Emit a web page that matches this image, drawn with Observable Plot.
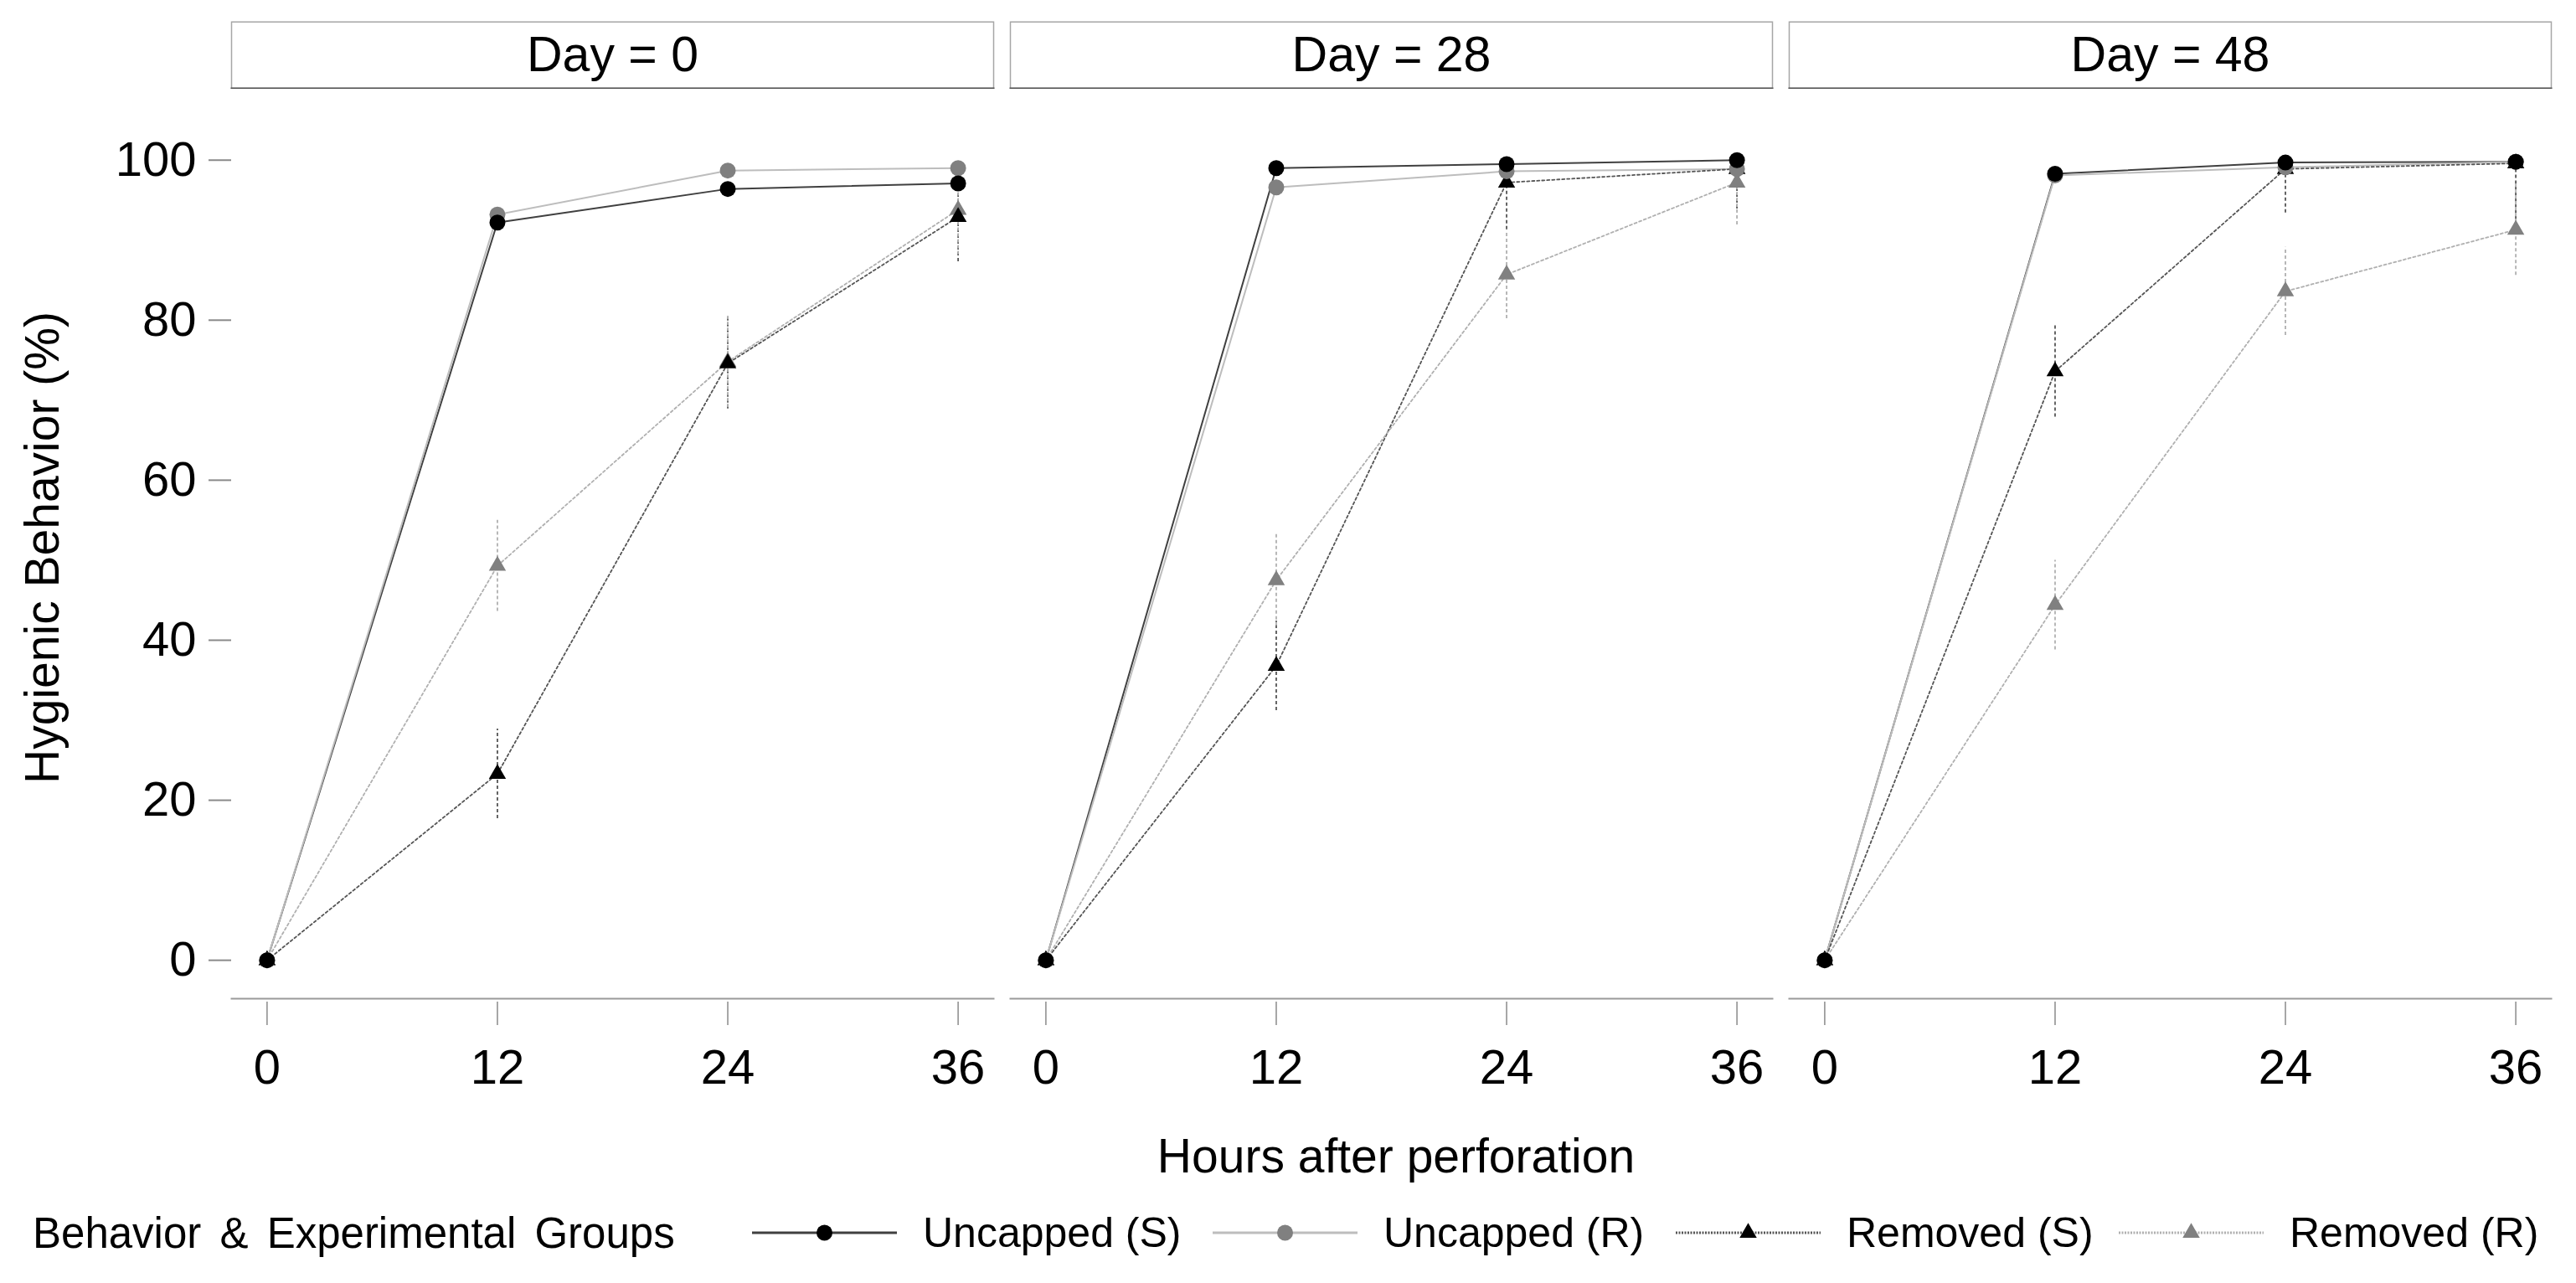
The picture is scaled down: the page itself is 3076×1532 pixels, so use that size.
<!DOCTYPE html>
<html>
<head>
<meta charset="utf-8">
<script src="https://cdn.jsdelivr.net/npm/d3@7"></script>
<script src="https://cdn.jsdelivr.net/npm/@observablehq/plot@0.6"></script>
<style>
  html, body { margin: 0; padding: 0; background: #fff; }
  body { font-family: "Liberation Sans", Arial, sans-serif; }
  #wrap { position: relative; width: 3076px; height: 1532px; background: #fff; overflow: hidden; }
  #header { position: absolute; left: 0; top: 0; }
  #main { position: absolute; left: 0; top: 106px; }
  .t { position: absolute; white-space: nowrap; color: #000; line-height: 1; }
  .lg { position: absolute; }
</style>
</head>
<body>
<div id="wrap">
  <div id="header"></div>
  <div id="main"></div>
  <div class="t" id="ytitle" style="left:50px; top:654px; font-size:57px; transform: translate(-50%,-50%) rotate(-90deg);">Hygienic Behavior (%)</div>
  <div class="t" id="xtitle" style="left:1667px; top:1380px; font-size:57px; transform: translate(-50%,-50%);">Hours after perforation</div>
  <div id="legend"></div>
</div>
<script>
// ---------- data ----------
const days = [0, 28, 48];
const hours = [0, 12, 24, 36];
const yTicks = [0, 20, 40, 60, 80, 100];
const groups = ["Uncapped (S)", "Uncapped (R)", "Removed (S)", "Removed (R)"];
const legendTitle = "Behavior & Experimental Groups";

// rows: Day 0, Day 28, Day 48 ; columns: hours 0, 12, 24, 36
const uncappedS = [[0, 92.2, 96.4, 97.1], [0, 99.0, 99.5, 100.0], [0, 98.3, 99.7, 99.8]];
const uncappedR = [[0, 93.2, 98.7, 99.0], [0, 96.6, 98.6, 98.9], [0, 98.1, 99.1, 99.8]];
const removedS  = [[0, 23.3, 74.6, 92.9], [0, 36.8, 97.2, 98.9], [0, 73.6, 98.9, 99.6]];
const removedR  = [[0, 49.3, 74.8, 93.8], [0, 47.5, 85.7, 97.2], [0, 44.4, 83.6, 91.3]];
// error half-widths (Removed groups only)
const removedSErr = [[0, 5.6, 5.7, 5.6], [0, 5.6, 5.9, 5.0], [0, 5.7, 5.5, 7.0]];
const removedRErr = [[0, 5.7, 5.7, 5.6], [0, 5.7, 5.5, 5.3], [0, 5.6, 5.5, 5.7]];

const seriesValues = [uncappedS, uncappedR, removedS, removedR];
const seriesErrors = [null, null, removedSErr, removedRErr];

// ---------- styles ----------
const styles = [
  {line: "#404040", dash: null,  width: 2,   fill: "#000000", symbol: "circle",   r: 9.5},
  {line: "#bdbdbd", dash: null,  width: 2,   fill: "#808080", symbol: "circle",   r: 9.5},
  {line: "#555555", dash: "3,3", width: 1.8, fill: "#000000", symbol: "triangle", r: 7.6},
  {line: "#b0b0b0", dash: "3,3", width: 1.8, fill: "#808080", symbol: "triangle", r: 7.6}
];

// ---------- long table ----------
const rows = [];
groups.forEach((g, gi) => {
  days.forEach((d, di) => {
    hours.forEach((h, hi) => {
      const v = seriesValues[gi][di][hi];
      const e = seriesErrors[gi] ? seriesErrors[gi][di][hi] : 0;
      rows.push({group: g, gi, day: d, hour: h, value: v,
                 lo: Math.max(0, v - e), hi: Math.min(100, v + e), err: e});
    });
  });
});

const font = "'Liberation Sans', Arial, sans-serif";
const xPad = 1.85;
const fxOpts = {domain: days, paddingInner: 0.0215, paddingOuter: 0, axis: null};

// ---------- header strip ----------
const header = Plot.plot({
  width: 3076, height: 106,
  marginLeft: 275.5, marginRight: 30, marginTop: 25.7, marginBottom: 1,
  fx: fxOpts,
  style: {fontFamily: font, background: "transparent"},
  marks: [
    Plot.frame({stroke: "#a6a6a6", strokeWidth: 1.5}),
    Plot.frame({anchor: "bottom", stroke: "#505050", strokeWidth: 2}),
    Plot.text(days, {fx: d => d, text: d => `Day = ${d}`, frameAnchor: "middle", fontSize: 59, fill: "#000"})
  ]
});
document.getElementById("header").appendChild(header);

// ---------- main panels ----------
const lineMarks = [];
const errMarks = [];
const dotMarks = [];
groups.forEach((g, gi) => {
  const s = styles[gi];
  const data = rows.filter(r => r.gi === gi);
  lineMarks.push(Plot.line(data, {
    fx: "day", x: "hour", y: "value",
    stroke: s.line, strokeWidth: s.width, strokeDasharray: s.dash || undefined
  }));
  if (seriesErrors[gi]) {
    errMarks.push(Plot.ruleX(data.filter(r => r.err > 0), {
      fx: "day", x: "hour", y1: "lo", y2: "hi",
      stroke: s.line, strokeWidth: 1.8, strokeDasharray: "4,3"
    }));
  }
});
// draw order of markers: Removed (R), Removed (S), Uncapped (R), Uncapped (S)
[3, 2, 1, 0].forEach(gi => {
  const s = styles[gi];
  dotMarks.push(Plot.dot(rows.filter(r => r.gi === gi), {
    fx: "day", x: "hour", y: "value",
    symbol: s.symbol, r: s.r, fill: s.fill, stroke: "none"
  }));
});

const main = Plot.plot({
  width: 3076, height: 1204,
  marginLeft: 275.5, marginRight: 30, marginTop: 4, marginBottom: 118,
  fx: fxOpts,
  x: {domain: [hours[0] - xPad, hours[hours.length - 1] + xPad]},
  y: {domain: [-4.8, 108.45]},
  style: {fontFamily: font, background: "transparent"},
  marks: [
    Plot.frame({anchor: "bottom", stroke: "#9a9a9a", strokeWidth: 2}),
    Plot.axisY({ticks: yTicks, tickSize: 27, tickPadding: 15, stroke: "#8a8a8a", strokeWidth: 2,
                fill: "#000", fontSize: 58, label: null, line: true}),
    Plot.axisX({ticks: hours, tickSize: 28, tickPadding: 28, dy: 4, stroke: "#8a8a8a", strokeWidth: 1.5,
                fill: "#000", fontSize: 58, label: null}),
    ...lineMarks,
    ...errMarks,
    ...dotMarks
  ]
});
document.getElementById("main").appendChild(main);

// ---------- legend ----------
const legend = document.getElementById("legend");
const legendY = 1472;
const title = document.createElement("div");
title.className = "t";
title.style.cssText = `left:39px; top:${legendY}px; font-size:51px; transform: translateY(-50%); word-spacing: 8px;`;
title.textContent = legendTitle;
legend.appendChild(title);

const swatchLeft = [898, 1448, 2001, 2530];
const textLeft = [1102, 1652, 2205, 2734];
groups.forEach((g, gi) => {
  const s = styles[gi];
  const w = 173, h = 40;
  const svg = d3.create("svg").attr("width", w).attr("height", h)
    .attr("class", "lg")
    .style("left", swatchLeft[gi] + "px").style("top", (legendY - h / 2) + "px");
  svg.append("line").attr("x1", 0).attr("x2", w).attr("y1", h / 2).attr("y2", h / 2)
    .attr("stroke", s.line).attr("stroke-width", 3)
    .attr("stroke-dasharray", s.dash ? "2,1.5" : null);
  const sym = s.symbol === "circle" ? d3.symbolCircle : d3.symbolTriangle;
  svg.append("path").attr("d", d3.symbol(sym, Math.PI * s.r * s.r)())
    .attr("transform", `translate(${w / 2},${h / 2})`).attr("fill", s.fill);
  legend.appendChild(svg.node());
  const t = document.createElement("div");
  t.className = "t";
  t.style.cssText = `left:${textLeft[gi]}px; top:${legendY}px; font-size:50px; transform: translateY(-50%);`;
  t.textContent = g;
  legend.appendChild(t);
});
</script>
</body>
</html>
